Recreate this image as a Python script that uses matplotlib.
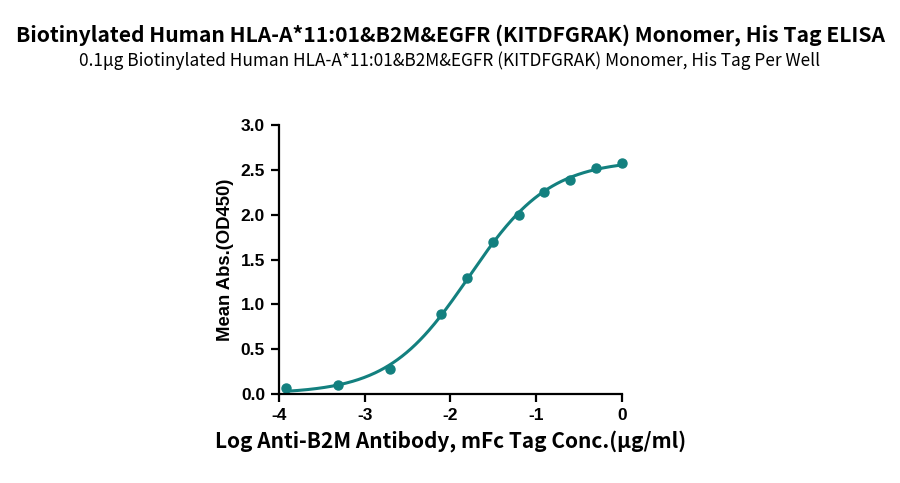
import numpy as np
import matplotlib
matplotlib.use("Agg")
import matplotlib.pyplot as plt

log_conc = [-3.913, -3.311, -2.709, -2.107, -1.806, -1.505, -1.204, -0.903, -0.602, -0.301, 0.0]
od450 = [0.064, 0.097, 0.275, 0.895, 1.30, 1.70, 2.00, 2.25, 2.39, 2.52, 2.58]

title = "Biotinylated Human HLA-A*11:01&B2M&EGFR (KITDFGRAK) Monomer, His Tag ELISA"
subtitle = "0.1μg Biotinylated Human HLA-A*11:01&B2M&EGFR (KITDFGRAK) Monomer, His Tag Per Well"
xlabel = "Log Anti-B2M Antibody, mFc Tag Conc.(μg/ml)"
ylabel = "Mean Abs.(OD450)"
xticks = [-4, -3, -2, -1, 0]
yticks = [0.0, 0.5, 1.0, 1.5, 2.0, 2.5, 3.0]
color = "#13807f"

x = np.array(log_conc)
y = np.array(od450)

def f4(p, xx):
    b, t, c, h = p
    return b + (t - b) / (1 + 10 ** ((c - xx) * h))

# 4PL least squares fit (Gauss-Newton with damping)
p = np.array([0.0, 2.7, -1.8, 1.0])
lam = 1e-3
for _ in range(200):
    r = y - f4(p, x)
    J = np.zeros((len(x), 4))
    for i in range(4):
        dp = np.zeros(4); dp[i] = 1e-6
        J[:, i] = (f4(p + dp, x) - f4(p - dp, x)) / 2e-6
    A = J.T @ J
    step = np.linalg.solve(A + lam * np.diag(np.diag(A)), J.T @ r)
    pn = p + step
    if np.sum((y - f4(pn, x)) ** 2) < np.sum(r ** 2):
        p = pn; lam *= 0.5
    else:
        lam *= 5

xs = np.linspace(x.min(), x.max(), 300)

fig = plt.figure(figsize=(9, 4.83), dpi=100)
ax = fig.add_axes([0.31, 0.184, 0.381, 0.557])
ax.plot(xs, f4(p, xs), color=color, lw=2.2)
ax.plot(x, y, 'o', color=color, ms=6.5, clip_on=False)
ax.set_xlim(-4, 0)
ax.set_ylim(0, 3)
ax.set_xticks(xticks)
ax.set_yticks(yticks)
ax.set_xticklabels([str(v) for v in xticks])
ax.set_yticklabels([f"{v:.1f}" for v in yticks])
for s in ["top", "right"]:
    ax.spines[s].set_visible(False)
for s in ["left", "bottom"]:
    ax.spines[s].set_linewidth(1.6)
ax.tick_params(direction="out", length=6, width=1.6, labelsize=12.5, pad=4)
for lab in ax.get_xticklabels() + ax.get_yticklabels():
    lab.set_fontfamily("Liberation Sans")
    lab.set_fontweight("bold")
ax.set_ylabel(ylabel, fontsize=13.3, fontweight="bold", family="Liberation Sans", labelpad=5)
ax.set_xlabel(xlabel, fontsize=15, fontweight="bold", family="Noto Sans CJK SC", labelpad=5)

fig.text(0.5, 0.927, title, ha="center", va="center", fontsize=15.2, fontweight="bold",
         family="Noto Sans CJK SC")
fig.text(0.5, 0.874, subtitle, ha="center", va="center", fontsize=12.4,
         family="Noto Sans CJK SC")

fig.savefig("out.png", dpi=100)
